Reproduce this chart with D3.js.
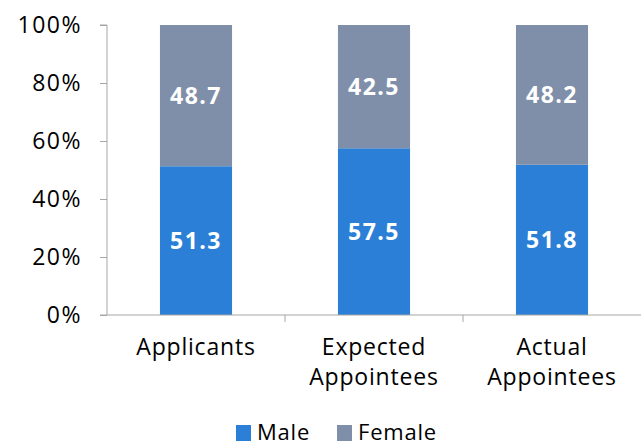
<!DOCTYPE html>
<html>
<head>
<meta charset="utf-8">
<script src="https://cdn.jsdelivr.net/npm/d3@7"></script>
<style>
  body { margin: 0; background: #fff; }
  svg text { font-family: "Century Gothic", "Open Sans", sans-serif; letter-spacing: 0.8px; }
</style>
</head>
<body>
<svg id="chart" width="641" height="442"></svg>
<script>
// chart data
const categories = [["Applicants"], ["Expected", "Appointees"], ["Actual", "Appointees"]];
const maleValues = [51.3, 57.5, 51.8];
const femaleValues = [48.7, 42.5, 48.2];
const yTicks = [0, 20, 40, 60, 80, 100];
const seriesNames = ["Male", "Female"];

const svg = d3.select("#chart");
const colors = { Male: "#2B7FD6", Female: "#7F8FA9" };
const axisColor = "#A6A6A6";
const fontFamily = "'Century Gothic', 'Open Sans', sans-serif";

const plotLeft = 107, plotRight = 641, plotTop = 25, plotBottom = 315;

const x = d3.scaleBand().domain(d3.range(categories.length)).range([plotLeft, plotRight]).padding(0);
const y = d3.scaleLinear().domain([0, 100]).range([plotBottom, plotTop]);
const barW = x.bandwidth() * 0.405;

const rows = categories.map((c, i) => ({ i, Male: maleValues[i], Female: femaleValues[i] }));
const stacked = d3.stack().keys(seriesNames)(rows);

// bars
stacked.forEach(layer => {
    svg.append("g").selectAll("rect")
        .data(layer)
        .enter().append("rect")
        .attr("x", d => x(d.data.i) + x.bandwidth() / 2 - barW / 2)
        .attr("y", d => y(d[1]))
        .attr("width", barW)
        .attr("height", d => y(d[0]) - y(d[1]))
        .attr("fill", colors[layer.key]);

    svg.append("g").selectAll("text")
        .data(layer)
        .enter().append("text")
        .attr("x", d => x(d.data.i) + x.bandwidth() / 2)
        .attr("y", d => y((d[0] + d[1]) / 2))
        .attr("dy", "0.36em")
        .attr("text-anchor", "middle")
        .attr("fill", "#fff")
        .attr("font-weight", "bold")
        .attr("font-size", 23)
        .style("letter-spacing", "1.5px")
        .text(d => d.data[layer.key].toFixed(1));
});

// y axis
const yAxis = svg.append("g").attr("transform", `translate(${plotLeft},0)`)
    .call(d3.axisLeft(y).tickValues(yTicks).tickSize(7).tickPadding(18).tickFormat(d => d + "%"));
yAxis.select(".domain").attr("stroke", axisColor).attr("d", `M-7,${plotTop}H0V${plotBottom}`);
yAxis.selectAll(".tick line").attr("stroke", axisColor);
yAxis.selectAll(".tick text").attr("font-size", 23).attr("fill", "#000")
    .attr("font-family", fontFamily).style("letter-spacing", "1.5px");

// x axis
const xAxis = svg.append("g").attr("transform", `translate(0,${plotBottom})`);
xAxis.append("line").attr("x1", plotLeft - 7).attr("x2", plotRight).attr("stroke", axisColor);
xAxis.selectAll(".sep")
    .data(d3.range(1, categories.length))
    .enter().append("line")
    .attr("x1", d => x(d)).attr("x2", d => x(d))
    .attr("y1", 0).attr("y2", 7)
    .attr("stroke", axisColor);

const labels = xAxis.selectAll(".cat")
    .data(categories)
    .enter().append("text")
    .attr("text-anchor", "middle")
    .attr("font-size", 23)
    .attr("fill", "#000")
    .attr("transform", (d, i) => `translate(${x(i) + x.bandwidth() / 2},40)`);
labels.selectAll("tspan")
    .data(d => d)
    .enter().append("tspan")
    .attr("x", 0)
    .attr("y", (d, j) => j * 30)
    .text(d => d);

// legend
const legend = svg.append("g").attr("transform", "translate(236,425)");
const legendX = [0, 101];
seriesNames.forEach((name, i) => {
    const g = legend.append("g").attr("transform", `translate(${legendX[i]},0)`);
    g.append("rect").attr("width", 15).attr("height", 16).attr("fill", colors[name]);
    g.append("text").attr("x", 21).attr("y", 15).attr("font-size", 22).attr("fill", "#000").text(name);
});
</script>
</body>
</html>
